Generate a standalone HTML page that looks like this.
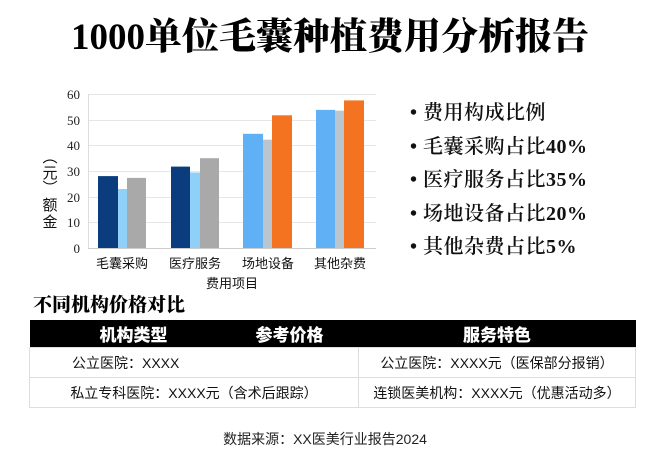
<!DOCTYPE html>
<html><head><meta charset="utf-8"><style>
body{margin:0;width:650px;height:450px;background:#fff;position:relative;overflow:hidden;font-family:"Liberation Sans","Noto Sans CJK SC",sans-serif;}
.t{position:absolute;white-space:nowrap;}
#title{left:0;width:660px;text-align:center;top:6px;font-family:"Liberation Serif","Noto Serif CJK SC",serif;font-weight:900;font-size:37px;color:#000;}
.bl{left:410px;font-family:"Liberation Serif","Noto Serif CJK SC",serif;font-size:20px;font-weight:600;color:#111;letter-spacing:0.5px;}
table{position:absolute;left:29px;top:320px;width:606px;border-collapse:collapse;font-size:14px;table-layout:fixed;}
td{height:29px;border:1px solid #ddd;text-align:center;color:#111;padding:0;white-space:nowrap;}
th{height:27px;background:#000;color:#fff;font-size:17px;font-weight:900;padding:0;}
</style></head><body>
<div class="t" id="title">1000单位毛囊种植费用分析报告</div>
<svg width="400" height="300" style="position:absolute;left:0;top:0" font-family="Liberation Serif, Noto Serif CJK SC, serif">
<g stroke="#e6e6e6" stroke-width="1">
<line x1="88" x2="376" y1="94.5" y2="94.5"/><line x1="88" x2="376" y1="120.5" y2="120.5"/><line x1="88" x2="376" y1="145.5" y2="145.5"/><line x1="88" x2="376" y1="171.5" y2="171.5"/><line x1="88" x2="376" y1="197.5" y2="197.5"/><line x1="88" x2="376" y1="222.5" y2="222.5"/>
<line x1="88" x2="376" y1="248.5" y2="248.5" stroke="#ccc"/>
<line x1="88.5" x2="88.5" y1="94" y2="248" stroke="#ddd"/>
</g>
<g font-size="13" text-anchor="end" fill="#222">
<text x="80" y="99">60</text><text x="80" y="125">50</text><text x="80" y="150">40</text><text x="80" y="176">30</text><text x="80" y="202">20</text><text x="80" y="227">10</text><text x="80" y="253">0</text>
</g>
<rect x="98" y="176.1" width="20" height="71.9" fill="#0b3d7e"/>
<rect x="118" y="189" width="9" height="59" fill="#8fd0f8"/>
<rect x="127" y="177.9" width="19" height="70.1" fill="#a9a9a9"/>
<rect x="171" y="166.6" width="19" height="81.4" fill="#0b3d7e"/>
<rect x="190" y="172.5" width="10" height="75.5" fill="#8fd0f8"/>
<rect x="200" y="158.2" width="19" height="89.8" fill="#a9a9a9"/>
<rect x="243" y="133.8" width="20" height="114.2" fill="#5fb0f5"/>
<rect x="263" y="139.7" width="9" height="108.3" fill="#b9c5cf"/>
<rect x="272" y="115.3" width="20" height="132.7" fill="#f47320"/>
<rect x="316" y="109.9" width="19" height="138.1" fill="#5fb0f5"/>
<rect x="335" y="110.7" width="9" height="137.3" fill="#b9c5cf"/>
<rect x="344" y="100.4" width="20" height="147.6" fill="#f47320"/>
<g font-family="Liberation Sans, Noto Sans CJK SC, sans-serif" font-size="13" fill="#111" text-anchor="middle">
<text x="122" y="268">毛囊采购</text><text x="195" y="268">医疗服务</text><text x="268" y="268">场地设备</text><text x="340" y="268">其他杂费</text>
<text x="232" y="288">费用项目</text>
</g>
<g font-family="Liberation Sans, Noto Sans CJK SC, sans-serif" font-size="15" fill="#111" text-anchor="middle">
<text x="50" y="162">︵</text><text x="50" y="178">元</text><text x="50" y="193">︶</text>
<text x="50" y="210">额</text><text x="50" y="227">金</text>
</g>
</svg>
<div class="t bl" style="top:96px">• 费用构成比例</div>
<div class="t bl" style="top:130px">• 毛囊采购占比40%</div>
<div class="t bl" style="top:163px">• 医疗服务占比35%</div>
<div class="t bl" style="top:197px">• 场地设备占比20%</div>
<div class="t bl" style="top:230px">• 其他杂费占比5%</div>
<div class="t" style="left:33px;top:290px;font-size:19px;font-weight:900;color:#000;font-family:'Liberation Serif','Noto Serif CJK SC',serif">不同机构价格对比</div>
<table>
<colgroup><col style="width:329px"><col style="width:277px"></colgroup>
<tr><th style="text-align:left;padding-left:70px">机构类型<span style="margin-left:88px">参考价格</span></th><th>服务特色</th></tr>
<tr><td style="text-align:left;padding-left:42px">公立医院：XXXX</td><td>公立医院：XXXX元（医保部分报销）</td></tr>
<tr><td>私立专科医院：XXXX元（含术后跟踪）</td><td>连锁医美机构：XXXX元（优惠活动多）</td></tr>
</table>
<div class="t" style="left:0;width:650px;text-align:center;top:429px;font-size:14px;color:#222">数据来源：XX医美行业报告2024</div>
</body></html>
